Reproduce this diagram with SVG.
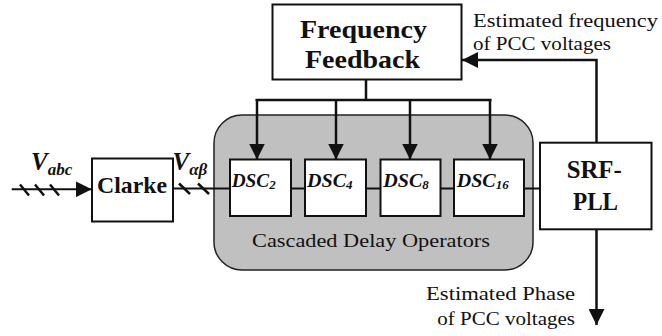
<svg xmlns="http://www.w3.org/2000/svg" width="662" height="336" viewBox="0 0 662 336">
<style>
.box{fill:#fff;stroke:#111;stroke-width:2}
.wire{fill:none;stroke:#111;stroke-width:2.5}
.thin{fill:none;stroke:#111;stroke-width:2}
.bold{font-family:"Liberation Serif",serif;font-weight:bold;fill:#111}
.bi{font-family:"Liberation Serif",serif;font-weight:bold;font-style:italic;fill:#111}
.reg{font-family:"Liberation Serif",serif;fill:#111}
</style>
<defs>
<marker id="ah" markerUnits="userSpaceOnUse" markerWidth="16" markerHeight="16" viewBox="0 0 16 16" refX="16" refY="8" orient="auto">
<path d="M0,0 L16,8 L0,16 Z" fill="#111"/>
</marker>
</defs>
<g id="cdo">
<rect x="214" y="115" width="319" height="155" rx="28" fill="#c0c0c0" stroke="#222" stroke-width="1.5"/>
<text class="reg" x="252" y="246.5" font-size="19" textLength="238" lengthAdjust="spacingAndGlyphs" fill="#222">Cascaded Delay Operators</text>
</g>
<g id="connectors">
<path class="thin" d="M11.7,189.3 H91.7" marker-end="url(#ah)"/>
<path class="thin" d="M173,188.5 H540"/>
<g stroke="#111" stroke-width="2.5">
<line x1="20" y1="184.5" x2="29" y2="195.5"/>
<line x1="35" y1="184.5" x2="44" y2="195.5"/>
<line x1="50" y1="184.5" x2="59" y2="195.5"/>
<line x1="179" y1="183.5" x2="190" y2="194"/>
<line x1="198" y1="183.5" x2="209" y2="194"/>
</g>
<path class="wire" d="M366,79 V100 M255.5,100 H491.5"/>
<path class="wire" d="M257,100 V159.5" marker-end="url(#ah)"/>
<path class="wire" d="M336,100 V159.5" marker-end="url(#ah)"/>
<path class="wire" d="M410,100 V159.5" marker-end="url(#ah)"/>
<path class="wire" d="M490,100 V159.5" marker-end="url(#ah)"/>
<path class="wire" d="M596.5,142.7 V60 H462" marker-end="url(#ah)"/>
<path class="wire" d="M596.5,229.3 V325" marker-end="url(#ah)"/>
</g>
<g id="freq">
<rect class="box" x="272.5" y="4.5" width="189" height="75"/>
<text class="bold" x="300" y="38.3" font-size="25" textLength="127" lengthAdjust="spacingAndGlyphs">Frequency</text>
<text class="bold" x="305" y="68.3" font-size="25" textLength="115" lengthAdjust="spacingAndGlyphs">Feedback</text>
</g>
<g id="clarke">
<rect class="box" x="92" y="158.5" width="81" height="63"/>
<text class="bold" x="97" y="192.7" font-size="24" textLength="70" lengthAdjust="spacingAndGlyphs">Clarke</text>
</g>
<g id="dsc2">
<rect class="box" x="230" y="159.5" width="61" height="56.5"/>
<text class="bi" x="231.7" y="187" font-size="18"><tspan textLength="37.5" lengthAdjust="spacingAndGlyphs">DSC</tspan><tspan font-size="13" dy="2">2</tspan></text>
</g>
<g id="dsc4">
<rect class="box" x="305" y="159.5" width="61" height="56.5"/>
<text class="bi" x="307" y="187" font-size="18"><tspan textLength="39" lengthAdjust="spacingAndGlyphs">DSC</tspan><tspan font-size="13" dy="2">4</tspan></text>
</g>
<g id="dsc8">
<rect class="box" x="380.5" y="159.5" width="60" height="56.5"/>
<text class="bi" x="383.3" y="187" font-size="18"><tspan textLength="39" lengthAdjust="spacingAndGlyphs">DSC</tspan><tspan font-size="13" dy="2">8</tspan></text>
</g>
<g id="dsc16">
<rect class="box" x="454" y="159.5" width="70" height="56.5"/>
<text class="bi" x="456.7" y="187" font-size="18"><tspan textLength="39" lengthAdjust="spacingAndGlyphs">DSC</tspan><tspan font-size="13" dy="2">16</tspan></text>
</g>
<g id="pll">
<rect class="box" x="540" y="142.7" width="111.5" height="86.6"/>
<text class="bold" x="566.7" y="178" font-size="25" textLength="55" lengthAdjust="spacingAndGlyphs">SRF-</text>
<text class="bold" x="573" y="210" font-size="25" textLength="45" lengthAdjust="spacingAndGlyphs">PLL</text>
</g>
<g id="labels">
<text class="bi" x="31" y="170" font-size="25">V<tspan font-size="17" dy="5">abc</tspan></text>
<text class="bi" x="172.5" y="170" font-size="25">V<tspan font-size="17" dy="5">αβ</tspan></text>
<text class="reg" x="473" y="27" font-size="18" textLength="185" lengthAdjust="spacingAndGlyphs">Estimated frequency</text>
<text class="reg" x="473" y="50" font-size="18" textLength="138" lengthAdjust="spacingAndGlyphs">of PCC voltages</text>
<text class="reg" x="426" y="300" font-size="18" textLength="149" lengthAdjust="spacingAndGlyphs">Estimated Phase</text>
<text class="reg" x="437.3" y="324.5" font-size="18" textLength="137.7" lengthAdjust="spacingAndGlyphs">of PCC voltages</text>
</g>
</svg>
